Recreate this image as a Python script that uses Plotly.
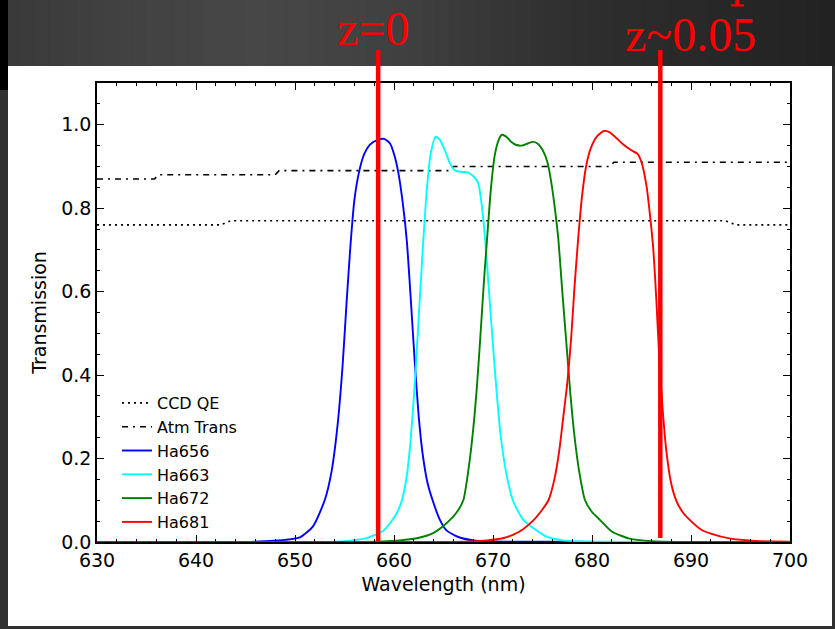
import plotly.graph_objects as go

# ---------------- data ----------------
ccd_wl = [630, 642.5, 643.5, 693.5, 694.5, 700]
ccd_qe = [0.76, 0.76, 0.77, 0.77, 0.76, 0.76]

atm_wl = [630, 635.8, 636.2, 648.0, 648.4, 665.6, 666.0, 681.8, 682.2, 700]
atm_tr = [0.87, 0.87, 0.88, 0.88, 0.89, 0.89, 0.90, 0.90, 0.91, 0.91]

ha656_wl = [630, 645, 647, 649, 650.5, 651.8, 653.0, 653.7, 654.3, 654.8, 655.2, 655.6,
            656.0, 656.5, 657.0, 657.6, 658.3, 659.0, 659.6, 660.0, 660.4, 660.9,
            661.3, 661.7, 662.1, 662.5, 662.9, 663.4, 663.9, 664.6, 665.3, 666.5,
            668, 670, 675, 690, 700]
ha656_tr = [0, 0.0, 0.002, 0.005, 0.011, 0.037, 0.10, 0.17, 0.28, 0.42, 0.57, 0.71,
            0.82, 0.89, 0.93, 0.953, 0.963, 0.966, 0.955, 0.93, 0.89, 0.81,
            0.72, 0.58, 0.43, 0.30, 0.21, 0.14, 0.10, 0.055, 0.028, 0.012,
            0.004, 0.0015, 0.0005, 0, 0]

ha663_wl = [630, 653, 655, 657.3, 658.8, 659.6, 660.3, 660.8, 661.3, 661.7, 662.1,
            662.5, 662.9, 663.3, 663.7, 664.2, 664.6, 665.2, 665.7, 666.2, 666.8,
            667.4, 668.0, 668.5, 668.9, 669.2, 669.6, 670.0, 670.4, 670.8, 671.3,
            672.0, 673.0, 674.1, 675.5, 677, 680, 690, 700]
ha663_tr = [0, 0.0, 0.002, 0.010, 0.025, 0.045, 0.07, 0.10, 0.16, 0.25, 0.38,
            0.54, 0.70, 0.84, 0.93, 0.971, 0.965, 0.935, 0.905, 0.89, 0.887,
            0.886, 0.877, 0.86, 0.80, 0.726, 0.60, 0.47, 0.35, 0.25, 0.17,
            0.10, 0.055, 0.033, 0.012, 0.004, 0.001, 0, 0]

ha672_wl = [630, 656, 660.6, 662.3, 664, 665.3, 666.3, 667.0, 667.5, 668.0, 668.4,
            668.8, 669.1, 669.4, 669.8, 670.2, 670.6, 670.9, 671.3, 671.8, 672.3,
            672.9, 673.5, 674.0, 674.5, 675.0, 675.5, 675.9, 676.3, 676.6, 677.0,
            677.4, 677.8, 678.2, 678.7, 679.3, 680.0, 680.8, 682.0, 683.8, 686,
            690, 700]
ha672_tr = [0, 0.0, 0.004, 0.009, 0.022, 0.045, 0.07, 0.10, 0.17, 0.27, 0.38,
            0.52, 0.63, 0.726, 0.85, 0.93, 0.965, 0.976, 0.972, 0.96, 0.952,
            0.950, 0.955, 0.959, 0.955, 0.94, 0.91, 0.86, 0.79, 0.726, 0.60,
            0.48, 0.36, 0.26, 0.17, 0.10, 0.072, 0.053, 0.025, 0.008, 0.002,
            0, 0]

ha681_wl = [630, 665, 669.4, 671, 672.0, 673, 674.0, 674.8, 675.6, 676.2, 676.7,
            677.1, 677.5, 677.9, 678.2, 678.6, 679.0, 679.4, 679.9, 680.5, 681.2,
            681.7, 682.3, 683.1, 683.9, 684.6, 685.0, 685.5, 685.9, 686.2, 686.5,
            686.8, 687.1, 687.5, 688.0, 688.5, 689.2, 690, 691, 692, 694, 697, 700]
ha681_tr = [0, 0.0, 0.004, 0.009, 0.017, 0.030, 0.050, 0.072, 0.10, 0.15, 0.22,
            0.30, 0.38, 0.49, 0.60, 0.726, 0.83, 0.90, 0.945, 0.972, 0.985,
            0.983, 0.972, 0.954, 0.94, 0.93, 0.91, 0.854, 0.774, 0.70, 0.58,
            0.44, 0.33, 0.22, 0.14, 0.10, 0.07, 0.05, 0.03, 0.02, 0.008, 0.002, 0.001]

z_lines = [658.4, 686.9]
z_labels = ["z=0", "z~0.05"]

# ---------------- geometry helpers ----------------
W, H = 835, 629
L, R, T, B = 97, 790, 83, 542


def px(xp):
    return (xp - L) / (R - L)


def py(yp):
    return (B - yp) / (B - T)


fig = go.Figure()

fig.add_trace(go.Scatter(x=ccd_wl, y=ccd_qe, name="CCD QE", mode="lines",
                         line=dict(color="black", width=1.6, dash="2px,4px")))
fig.add_trace(go.Scatter(x=atm_wl, y=atm_tr, name="Atm Trans", mode="lines",
                         line=dict(color="black", width=1.6, dash="6px,5px,2px,5px")))
for wl, tr, nm, col in [(ha656_wl, ha656_tr, "Ha656", "#0000ff"),
                        (ha663_wl, ha663_tr, "Ha663", "#00ffff"),
                        (ha672_wl, ha672_tr, "Ha672", "#008000"),
                        (ha681_wl, ha681_tr, "Ha681", "#ff0000")]:
    fig.add_trace(go.Scatter(x=wl, y=tr, name=nm, mode="lines",
                             line=dict(color=col, width=1.9, shape="spline", smoothing=0.6)))

shapes = []
# top dark band with a soft horizontal gradient (decoration)
stops = [(8, 0x3a), (130, 0x42), (260, 0x47), (400, 0x40), (560, 0x30), (700, 0x28), (835, 0x22)]
nstrip = 60
for i in range(nstrip):
    x0 = 8 + (W - 8) * i / nstrip
    x1 = 8 + (W - 8) * (i + 1) / nstrip
    xm = 0.5 * (x0 + x1)
    for (a, ca), (b, cb) in zip(stops[:-1], stops[1:]):
        if a <= xm <= b:
            g = int(round(ca + (cb - ca) * (xm - a) / (b - a)))
            break
    shapes.append(dict(type="rect", xref="paper", yref="paper", layer="below",
                       x0=px(x0), x1=px(x1 + 0.6), y0=py(66), y1=py(0),
                       fillcolor="#%02x%02x%02x" % (g, g, g), line=dict(width=0)))
shapes.append(dict(type="rect", xref="paper", yref="paper", layer="below",
                   x0=px(0), x1=px(8), y0=py(90), y1=py(0),
                   fillcolor="#000000", line=dict(width=0)))
# white panel
shapes.append(dict(type="rect", xref="paper", yref="paper", layer="below",
                   x0=px(8), x1=px(832), y0=py(626), y1=py(66),
                   fillcolor="#ffffff", line=dict(width=0)))
# tiny clipped red glyph fragment at the top edge
shapes.append(dict(type="rect", xref="paper", yref="paper", layer="above",
                   x0=px(735.3), x1=px(739.3), y0=py(6), y1=py(0),
                   fillcolor="#ff0000", line=dict(width=0)))
shapes.append(dict(type="rect", xref="paper", yref="paper", layer="above",
                   x0=px(731), x1=px(744), y0=py(6.5), y1=py(4.3),
                   fillcolor="#ff0000", line=dict(width=0)))
# red redshift markers
tops = [50, 50]
bots = [541.5, 538]
for zx, t0, b0 in zip(z_lines, tops, bots):
    shapes.append(dict(type="line", xref="x", yref="paper", layer="above",
                       x0=zx, x1=zx, y0=py(b0), y1=py(t0),
                       line=dict(color="#ff0000", width=4.5)))

annotations = [
    dict(text=z_labels[0], xref="paper", yref="paper", x=px(373), y=py(29),
         xanchor="center", yanchor="middle", showarrow=False,
         font=dict(family="Liberation Serif", size=48, color="#ff0000")),
    dict(text=z_labels[1], xref="paper", yref="paper", x=px(690), y=py(34),
         xanchor="center", yanchor="middle", showarrow=False,
         font=dict(family="Liberation Serif", size=48, color="#ff0000")),
]

axis_font = dict(family="DejaVu Sans", size=19, color="black")
fig.update_layout(
    width=W, height=H,
    margin=dict(l=L, r=W - R, t=T, b=H - B, autoexpand=False),
    paper_bgcolor="#303030", plot_bgcolor="#ffffff",
    shapes=shapes, annotations=annotations,
    showlegend=True,
    legend=dict(x=px(117), y=py(386), xanchor="left", yanchor="top",
                bgcolor="rgba(0,0,0,0)", borderwidth=0,
                font=dict(family="DejaVu Sans", size=16, color="black"),
                itemwidth=30),
    xaxis=dict(range=[630, 700], dtick=10, tick0=630, showgrid=False, zeroline=False,
               showline=True, linecolor="black", linewidth=1.5, mirror="allticks",
               ticks="inside", ticklen=7, tickwidth=1.2, tickcolor="black",
               minor=dict(dtick=2, ticks="inside", ticklen=3.5, tickwidth=1, tickcolor="black"),
               tickfont=axis_font,
               title=dict(text="Wavelength (nm)", font=axis_font, standoff=8)),
    yaxis=dict(range=[0, 1.1], dtick=0.2, tick0=0, tickformat=".1f", showgrid=False,
               zeroline=False, showline=True, linecolor="black", linewidth=1.5,
               mirror="allticks", ticks="inside", ticklen=7, tickwidth=1.2, tickcolor="black",
               minor=dict(dtick=0.05, ticks="inside", ticklen=3.5, tickwidth=1, tickcolor="black"),
               tickfont=axis_font,
               title=dict(text="Transmission", font=axis_font, standoff=10)),
)

fig.write_html("out.html",
               config={"displayModeBar": False},
               post_script="document.body.style.margin='0';"
                           "document.body.style.background='#303030';")
